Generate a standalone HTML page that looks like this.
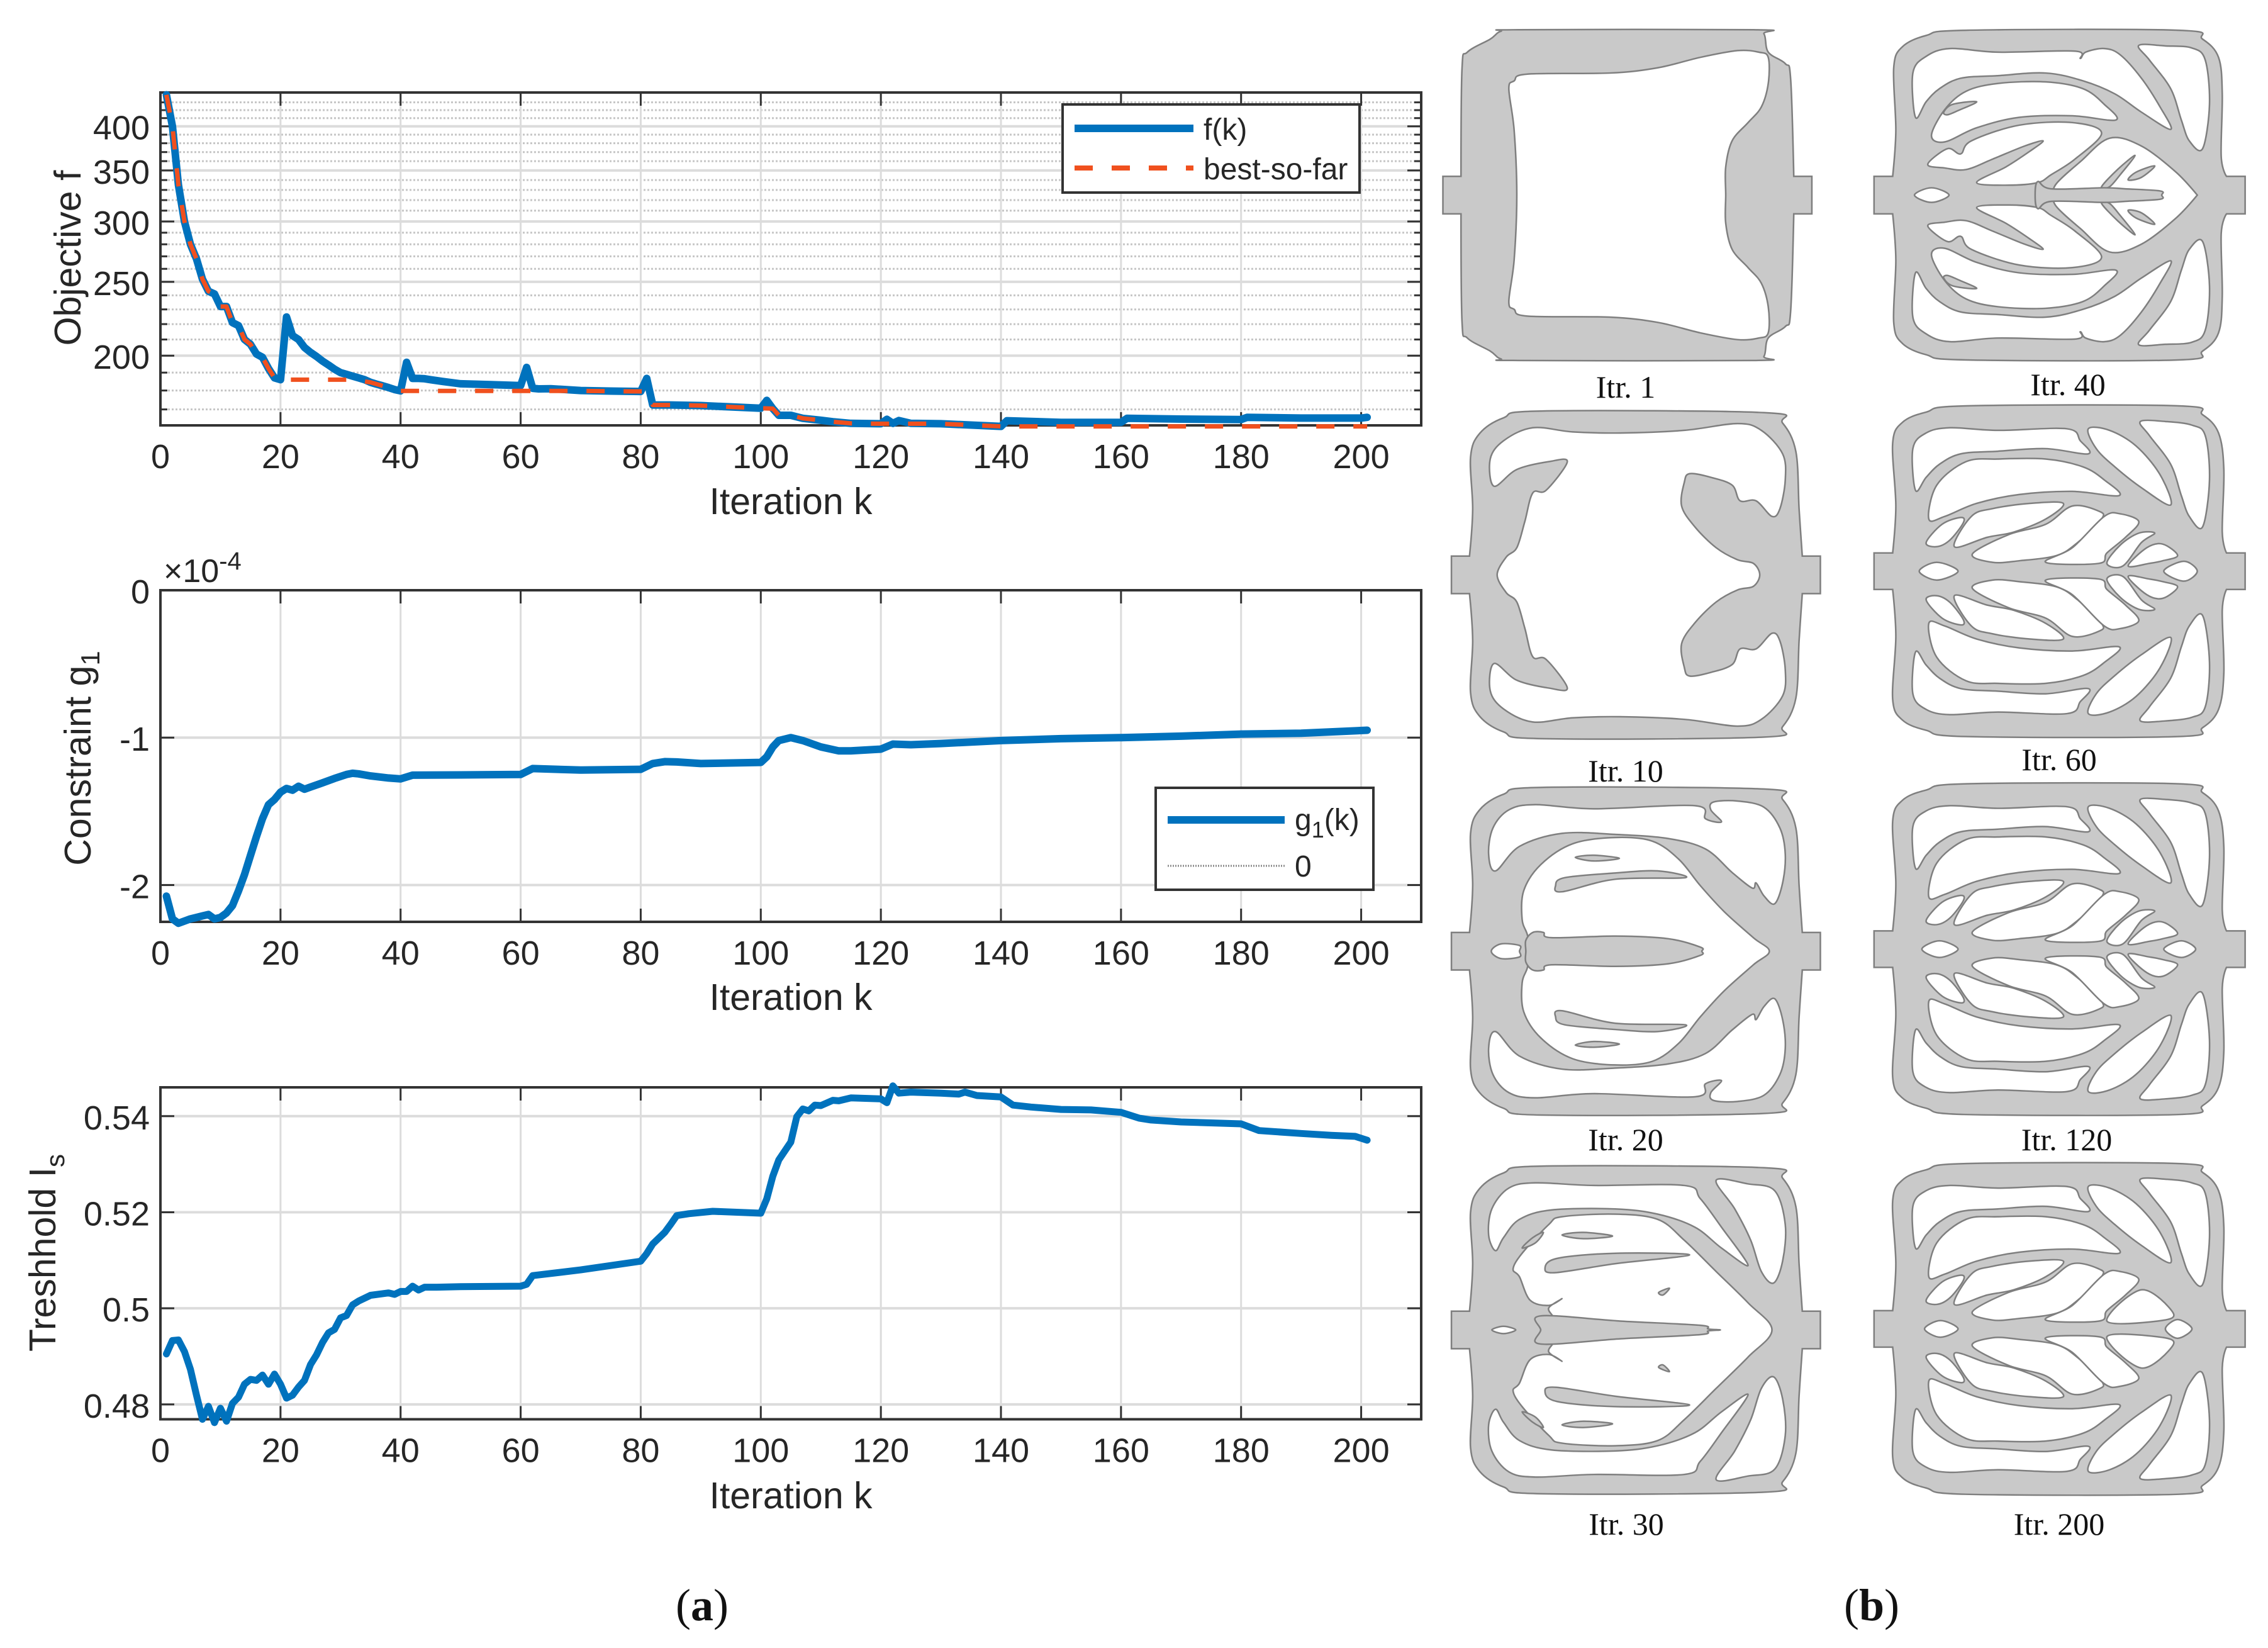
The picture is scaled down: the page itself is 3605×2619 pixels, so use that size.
<!DOCTYPE html>
<html lang="en">
<head>
<meta charset="utf-8">
<title>Optimization history and topology evolution</title>
<style>
html,body{margin:0;padding:0;background:#fff;}
svg{display:block;position:absolute;left:0;top:0;}
.sans{font-family:"Liberation Sans",Arial,sans-serif;fill:#262626;}
.serif{font-family:"Liberation Serif","Times New Roman",serif;fill:#111;}
</style>
</head>
<body>
<svg id="figure" xmlns="http://www.w3.org/2000/svg" width="3605" height="2619" viewBox="0 0 3605 2619">
  <rect width="3605" height="2619" fill="#ffffff"/>
  <g id="charts"></g>
  <g id="topologies"></g>

  <!-- Axis titles -->
  <text class="sans" font-size="59" text-anchor="middle" transform="translate(128,410) rotate(-90)">Objective f</text>
  <text class="sans" font-size="59" text-anchor="middle" x="1257" y="817">Iteration k</text>
  <text class="sans" font-size="59" text-anchor="middle" transform="translate(144,1205) rotate(-90)">Constraint g<tspan font-size="42" dy="14">1</tspan></text>
  <text class="sans" font-size="59" text-anchor="middle" x="1257" y="1605">Iteration k</text>
  <text class="sans" font-size="52" x="260" y="925">×10<tspan font-size="40" dy="-20">-4</tspan></text>
  <text class="sans" font-size="59" text-anchor="middle" transform="translate(88,1991) rotate(-90)">Treshhold I<tspan font-size="42" dy="14">s</tspan></text>
  <text class="sans" font-size="59" text-anchor="middle" x="1257" y="2397">Iteration k</text>

  <!-- Legends -->
  <g>
    <rect x="1689" y="166" width="472" height="140" fill="#fff" stroke="#333" stroke-width="4"/>
    <line x1="1708" y1="204" x2="1897" y2="204" stroke="#0072BD" stroke-width="12"/>
    <text class="sans" font-size="48" x="1913" y="222">f(k)</text>
    <line x1="1708" y1="267" x2="1897" y2="267" stroke="#F0501E" stroke-width="8" stroke-dasharray="29 30"/>
    <text class="sans" font-size="48" x="1913" y="285">best-so-far</text>
  </g>
  <g>
    <rect x="1837" y="1252" width="346" height="162" fill="#fff" stroke="#333" stroke-width="4"/>
    <line x1="1856" y1="1303" x2="2042" y2="1303" stroke="#0072BD" stroke-width="12"/>
    <text class="sans" font-size="48" x="2058" y="1319">g<tspan font-size="36" dy="12">1</tspan><tspan dy="-12">(k)</tspan></text>
    <line x1="1856" y1="1376" x2="2042" y2="1376" stroke="#888" stroke-width="3" stroke-dasharray="2 2"/>
    <text class="sans" font-size="48" x="2058" y="1393">0</text>
  </g>

  <!-- Captions -->
  <text class="serif" font-size="50" text-anchor="middle" x="2584" y="632">Itr. 1</text>
  <text class="serif" font-size="50" text-anchor="middle" x="3287" y="628">Itr. 40</text>
  <text class="serif" font-size="50" text-anchor="middle" x="2584" y="1242">Itr. 10</text>
  <text class="serif" font-size="50" text-anchor="middle" x="3273" y="1224">Itr. 60</text>
  <text class="serif" font-size="50" text-anchor="middle" x="2584" y="1828">Itr. 20</text>
  <text class="serif" font-size="50" text-anchor="middle" x="3285" y="1828">Itr. 120</text>
  <text class="serif" font-size="50" text-anchor="middle" x="2585" y="2439">Itr. 30</text>
  <text class="serif" font-size="50" text-anchor="middle" x="3273" y="2439">Itr. 200</text>
  <text class="serif" font-size="72" text-anchor="middle" x="1116" y="2575">(<tspan font-weight="bold">a</tspan>)</text>
  <text class="serif" font-size="72" text-anchor="middle" x="2975" y="2575">(<tspan font-weight="bold">b</tspan>)</text>
</svg>

<script id="chart-script">
const xTicks = [0,20,40,60,80,100,120,140,160,180,200];

const fMajorTicks = [200,250,300,350,400];
const fMinorTicks = [170,180,190,210,220,230,240,260,270,280,290,310,320,330,340,360,370,380,390,410,420,430];

const fIterations = [1,2,3,4,5,6,7,8,9,10,11,12,13,14,15,16,17,18,19,20,21,22,23,24,25,26,27,28,29,30,31,32,33,34,35,36,37,38,39,40,41,42,43,44,45,47,50,55,60,61,62,63,65,70,75,80,81,82,83,85,90,100,101,102,103,105,107,110,112,115,120,121,122,123,125,130,140,141,150,160,161,170,180,181,190,200,201];
const fValues = [440,400,335,300,280,268,252,243,241,232,232,221,219,210,207,201,199,192.4,187,186,224.8,212.5,210,205,202,199.5,196.7,194.4,192,190,189,188,187,186,184.5,183.5,182.6,181.6,180.5,179.8,196,186.7,186.7,186.5,186,185,183.7,183.2,182.7,193,181.2,180.9,181,180,179.7,179.5,186.7,172.3,172.3,172.3,172,170.6,174.7,170.4,167,167,165.5,164.5,163.8,163,162.8,165,163,164.4,163,162.8,161.5,164.3,163.5,163.5,165.5,165.1,164.9,166,165.6,165.6,166];

const bestIterations = [1,2,3,4,5,6,7,8,9,10,11,12,13,14,15,16,17,18,19,20,32,35,37,38,40,63,65,70,75,81,82,85,90,100,102,103,105,107,110,112,115,120,125,130,140,201];
const bestValues = [440,400,335,300,280,268,252,243,241,232,232,221,219,210,207,201,199,192.4,187,186,186,184.5,182.6,181.6,179.8,179.8,179.8,179.8,179.6,179.5,172.3,172.3,172,170.6,170.4,167,167,165.5,164.5,163.8,163,162.8,162.8,162.8,161.5,161.5];

const gMajorTicks = [-2,-1,0];
const gTickLabels = ['-2','-1','0'];
const gIterations = [1,2,3,4,5,6,7,8,9,10,11,12,13,14,15,16,17,18,19,20,21,22,23,24,25,27,29,31,32,33,35,38,40,42,50,60,62,70,80,82,84,86,90,100,101,102,103,105,107,110,113,115,120,122,125,130,140,150,160,170,180,190,201];
const gValues = [-2.076,-2.23,-2.26,-2.245,-2.23,-2.22,-2.21,-2.2,-2.23,-2.22,-2.19,-2.14,-2.04,-1.93,-1.8,-1.67,-1.55,-1.455,-1.42,-1.37,-1.345,-1.357,-1.33,-1.35,-1.335,-1.307,-1.277,-1.25,-1.242,-1.246,-1.26,-1.274,-1.28,-1.255,-1.253,-1.25,-1.21,-1.22,-1.215,-1.176,-1.163,-1.165,-1.176,-1.168,-1.13,-1.063,-1.02,-1,-1.02,-1.063,-1.09,-1.09,-1.078,-1.044,-1.048,-1.04,-1.02,-1.007,-1,-0.99,-0.976,-0.97,-0.95];

const tMajorTicks = [0.48,0.5,0.52,0.54];
const tTickLabels = ['0.48','0.5','0.52','0.54'];
const tIterations = [1,2,3,4,5,6,7,8,9,10,11,12,13,14,15,16,17,18,19,20,21,22,23,24,25,26,27,28,29,30,31,32,33,35,38,39,40,41,42,43,44,46,50,60,61,62,70,80,81,82,84,85,86,88,92,100,101,102,103,105,106,107,108,109,110,112,113,115,120,121,122,123,125,130,133,134,136,140,142,145,150,155,160,163,165,170,175,180,183,190,195,199,201];
const tValues = [0.4905,0.4933,0.4934,0.491,0.4873,0.4819,0.4769,0.4796,0.4762,0.4792,0.4765,0.4802,0.4815,0.4842,0.4852,0.485,0.4861,0.4842,0.4863,0.4842,0.4813,0.4819,0.4836,0.485,0.4883,0.4903,0.4929,0.4949,0.4956,0.498,0.4985,0.5007,0.5015,0.5027,0.5032,0.5029,0.5035,0.5035,0.5046,0.5038,0.5044,0.5044,0.5045,0.5046,0.505,0.5068,0.508,0.5098,0.5114,0.5134,0.5158,0.5175,0.5193,0.5197,0.5202,0.5198,0.5228,0.5275,0.5309,0.5346,0.5399,0.5415,0.5411,0.5423,0.5422,0.5433,0.5432,0.5438,0.5436,0.5428,0.5463,0.5448,0.545,0.5448,0.5446,0.545,0.5443,0.544,0.5423,0.5419,0.5414,0.5413,0.5408,0.5396,0.5392,0.5388,0.5386,0.5384,0.537,0.5364,0.536,0.5358,0.535];

const SVGNS = 'http://www.w3.org/2000/svg';
const chartsRoot = document.getElementById('charts');
const AXIS_LEFT = 255, AXIS_RIGHT = 2259, X_MAX = 210;
const xAxis = k => AXIS_LEFT + k * (AXIS_RIGHT - AXIS_LEFT) / X_MAX;

function make(tag, attrs, parent) {
  const node = document.createElementNS(SVGNS, tag);
  for (const key in attrs) node.setAttribute(key, attrs[key]);
  parent.appendChild(node);
  return node;
}

function drawSeries(parent, iters, values, yAxis, stroke, width, dash, seriesName) {
  const pts = iters.map((k, i) => xAxis(k).toFixed(1) + ',' + yAxis(values[i]).toFixed(1)).join(' ');
  const line = make('polyline', {points: pts, fill: 'none', stroke: stroke, 'stroke-width': width, 'stroke-linejoin': 'round', 'stroke-linecap': dash ? 'butt' : 'round'}, parent);
  if (dash) line.setAttribute('stroke-dasharray', dash);
  
  
}

function drawFrame(parent, top, bottom, yAxis, majors, majorLabels, minors) {
  for (const v of minors) {
    const y = yAxis(v);
    const grid = make('line', {x1: AXIS_LEFT, x2: AXIS_RIGHT, y1: y, y2: y, stroke: '#c6c6c6', 'stroke-width': 3, 'stroke-dasharray': '3 3'}, parent);
    
    
    const tl = make('line', {x1: AXIS_LEFT, x2: AXIS_LEFT + 11, y1: y, y2: y, stroke: '#333', 'stroke-width': 3}, parent);
    
    
    const tr = make('line', {x1: AXIS_RIGHT - 11, x2: AXIS_RIGHT, y1: y, y2: y, stroke: '#333', 'stroke-width': 3}, parent);
    
    
  }
  for (const k of xTicks) {
    const x = xAxis(k);
    const grid = make('line', {x1: x, x2: x, y1: top, y2: bottom, stroke: '#dcdcdc', 'stroke-width': 3}, parent);
    
    
  }
  majors.forEach((v) => {
    const y = yAxis(v);
    const grid = make('line', {x1: AXIS_LEFT, x2: AXIS_RIGHT, y1: y, y2: y, stroke: '#dcdcdc', 'stroke-width': 4}, parent);
    
    
  });
  for (const k of xTicks) {
    const x = xAxis(k);
    const t1 = make('line', {x1: x, x2: x, y1: top, y2: top + 21, stroke: '#333', 'stroke-width': 3}, parent);
    
    
    const t2 = make('line', {x1: x, x2: x, y1: bottom - 21, y2: bottom, stroke: '#333', 'stroke-width': 3}, parent);
    
    
    const label = make('text', {x: x, y: bottom + 68, 'text-anchor': 'middle', 'font-size': 54, class: 'sans'}, parent);
    label.textContent = String(k);
    
    
  }
  majors.forEach((v, i) => {
    const y = yAxis(v);
    const t1 = make('line', {x1: AXIS_LEFT, x2: AXIS_LEFT + 22, y1: y, y2: y, stroke: '#333', 'stroke-width': 3}, parent);
    
    
    const t2 = make('line', {x1: AXIS_RIGHT - 22, x2: AXIS_RIGHT, y1: y, y2: y, stroke: '#333', 'stroke-width': 3}, parent);
    
    
    const label = make('text', {x: 238, y: y + 21, 'text-anchor': 'end', 'font-size': 54, class: 'sans'}, parent);
    label.textContent = majorLabels[i];
    
    
  });
  const box = make('rect', {x: AXIS_LEFT, y: top, width: AXIS_RIGHT - AXIS_LEFT, height: bottom - top, fill: 'none', stroke: '#333', 'stroke-width': 4}, parent);
  
  
}

/* Objective plot: log y axis */
const fPlot = make('g', {}, chartsRoot);


const fTop = 147, fBottom = 676, fMin = 162, fMax = 443;
const fAxis = v => fBottom - (Math.log(v) - Math.log(fMin)) / (Math.log(fMax) - Math.log(fMin)) * (fBottom - fTop);
drawFrame(fPlot, fTop, fBottom, fAxis, fMajorTicks, fMajorTicks.map(String), fMinorTicks);
drawSeries(fPlot, fIterations, fValues, fAxis, '#0072BD', 12, null, 'objective-line');
drawSeries(fPlot, bestIterations, bestValues, fAxis, '#F0501E', 7, '29 30', 'best-so-far-line');

/* Constraint plot */
const gPlot = make('g', {}, chartsRoot);


const gTop = 938, gBottom = 1465, gMin = -2.25, gMax = 0;
const gAxis = v => gBottom - (v - gMin) / (gMax - gMin) * (gBottom - gTop);
drawFrame(gPlot, gTop, gBottom, gAxis, gMajorTicks, gTickLabels, []);
drawSeries(gPlot, gIterations, gValues, gAxis, '#0072BD', 12, null, 'constraint-line');

/* Threshold plot */
const tPlot = make('g', {}, chartsRoot);


const tTop = 1728, tBottom = 2255.5, tMin = 0.4769, tMax = 0.546;
const tAxis = v => tBottom - (v - tMin) / (tMax - tMin) * (tBottom - tTop);
drawFrame(tPlot, tTop, tBottom, tAxis, tMajorTicks, tTickLabels, []);
drawSeries(tPlot, tIterations, tValues, tAxis, '#0072BD', 11, null, 'threshold-line');
</script>

<script id="topology-script">
(function () {
  const NS = 'http://www.w3.org/2000/svg';
  const root = document.getElementById('topologies');
  const shift = (pts, dy) => pts.map((v, i) => (i % 2 ? v + dy : v));

  /* Outlines: top half, mirrored about each panel's centre line. A doubled point is a sharp corner. */
  const outer1 = [16,338,16,338,50,338,50,338,52,130,62,100,105,75,125,60,160,57,600,57,620,65,628,100,660,122,670,150,676,338,676,338,710,338,710,338];
  const outer40 = [827,338,827,338,862,338,862,338,868,250,864,130,880,90,925,68,1000,58,1400,58,1445,75,1475,110,1482,180,1480,300,1490,338,1490,338,1525,338,1525,338];
  const outer20 = [32,340,32,340,66,340,66,340,72,250,68,150,85,105,130,75,200,62,620,65,655,85,680,140,686,250,692,340,692,340,726,340,726,340];
  const outer60 = [827,1060,827,1060,862,1060,862,1060,868,970,862,850,880,810,925,790,1000,778,1400,778,1445,795,1475,830,1485,900,1482,1020,1490,1060,1490,1060,1525,1060,1525,1060];

  /* Shared veins of the later leaf layouts (coordinates for Itr. 60) */
  const leafHoles = [
    [905,940,900,860,925,830,970,820,1060,825,1190,822,1215,845,1230,870,1150,860,1060,865,990,870,950,890,925,915],
    [1230,822,1270,825,1320,855,1365,910,1385,968,1330,935,1280,895,1245,860],
    [1328,808,1375,808,1425,815,1450,835,1458,920,1445,1010,1420,990,1405,950,1385,890,1345,835],
    [930,995,945,930,1000,885,1060,880,1150,880,1220,895,1260,920,1288,950,1200,942,1100,948,1020,965,960,990],
    [925,1040,955,1005,990,992,995,1002,970,1035,945,1048],
    [978,1048,1010,990,1050,975,1120,965,1183,965,1150,995,1090,1020,1040,1030],
    [1012,1062,1080,1025,1150,1005,1200,970,1250,980,1255,995,1210,1040,1170,1065,1100,1075,1050,1078],
    [1150,1078,1200,1050,1260,990,1290,985,1325,1000,1300,1030,1265,1060,1250,1080]
  ];
  const leafTips = [
    [1265,1080,1290,1045,1325,1022,1355,1022,1330,1040,1295,1085],
    [1305,1085,1340,1050,1370,1043,1398,1065,1370,1075,1345,1080]
  ];

  const panels = [
    {name:'topology-itr-1', top:0, cy:374, outer:outer1,
      mids:[[155,374,150,250,140,170,150,155,175,142,330,140,420,130,500,110,570,97,610,100,628,110,628,160,615,205,590,235,560,270,548,320,548,374]]},
    {name:'topology-itr-40', top:0, cy:374, outer:outer40,
      holes:[
        [905,225,900,140,925,108,970,93,1060,100,1205,98,1215,112,1225,100,1260,93,1290,105,1330,150,1365,205,1385,248,1330,215,1280,180,1220,155,1150,140,1060,145,990,150,950,170,925,195],
        [1325,87,1375,88,1425,92,1450,115,1458,200,1445,285,1420,270,1405,230,1385,170,1345,115],
        [935,260,960,210,1000,175,1060,160,1150,157,1220,170,1260,200,1282,230,1200,222,1100,225,1020,245,960,272],
        [928,315,965,285,990,295,1010,270,1100,240,1200,235,1255,255,1205,305,1160,335,1135,350,1080,355,1020,350,1075,320,1120,290,1145,270,1110,280,1050,305,1000,325,960,322]
      ],
      mids:[[903,374,935,360,968,374],[1165,374,1170,352,1215,310,1270,265,1330,280,1395,330,1435,374,1435,374]],
      islands:[[958,215,975,200,1020,195,985,212,965,220],[1255,358,1285,325,1318,298,1290,335,1270,358],[1305,345,1320,330,1355,318,1330,340]],
      midIslands:[[1130,374,1135,348,1160,362,1260,360,1300,362,1365,366,1368,374]]},
    {name:'topology-itr-10', top:0, cy:1102, outer:shift(outer20,726),
      mids:[[118,1102,135,1068,155,1050,170,1000,185,945,210,940,250,885,215,885,155,900,112,932,105,880,130,845,185,820,260,828,350,830,470,825,570,812,615,825,655,870,660,920,650,975,635,990,605,960,575,960,560,930,520,915,480,908,470,925,465,970,490,1010,530,1050,570,1073,600,1080,612,1102]]},
    {name:'topology-itr-60', top:0, cy:1095, outer:outer60,
      holes:leafHoles.concat(leafTips),
      mids:[[912,1095,945,1078,985,1095],[1372,1095,1410,1076,1435,1095]]},
    {name:'topology-itr-20', top:1200, cy:376, outer:outer20,
      holes:[[115,222,102,190,110,140,140,105,190,95,300,103,490,97,510,122,540,128,520,105,525,90,570,88,620,100,650,140,660,190,655,245,640,285,620,270,605,245,598,255,560,225,510,180,440,160,340,152,240,150,160,175]],
      mids:[[107,376,125,362,160,365,160,376],[178,376,175,345,165,315,168,260,200,210,260,170,340,158,410,165,460,200,500,250,545,300,600,350,630,376]],
      islands:[[228,250,245,235,340,226,420,222,472,235,340,238,240,262],[265,196,300,192,348,198,300,203]],
      midIslands:[[172,376,172,355,185,340,205,340,220,350,340,347,440,352,500,368,503,376]]},
    {name:'topology-itr-120', top:1200, cy:372, outer:shift(outer60,-723),
      holes:leafHoles.concat(leafTips).map(h => shift(h,-723)),
      mids:[[917,372,950,356,985,372],[1372,372,1405,356,1432,372]]},
    {name:'topology-itr-30', top:1200, cy:1102, outer:shift(outer20,726),
      holes:[
        [115,950,102,920,108,870,140,830,190,820,300,825,470,825,500,850,540,905,590,978,540,945,490,905,420,880,340,870,220,872,160,890,130,925],
        [530,815,590,822,640,835,660,900,655,970,638,1012,615,990,595,930,565,870]
      ],
      mids:[[108,1102,130,1095,153,1102],[225,1102,225,1080,215,1060,240,1042,215,1055,180,1045,160,1000,148,985,165,955,215,900,240,885,340,880,420,890,470,930,530,990,590,1050,635,1102]],
      islands:[[208,985,230,965,340,955,480,958,340,975,230,992],[240,920,280,915,335,922,280,927],[165,945,185,925,205,915,190,935],[422,1030,442,1022,430,1035]],
      midIslands:[[200,1102,200,1075,350,1085,500,1093,515,1100,538,1102]]},
    {name:'topology-itr-200', top:1200, cy:1100, outer:shift(outer60,5),
      holes:leafHoles.map(h => shift(h,5)).concat([[1265,1085,1330,1025,1390,1070,1360,1085]]),
      mids:[[922,1100,952,1084,985,1100],[1375,1100,1398,1082,1425,1100]]}
  ];

  function toPairs(flat) {
    const out = [];
    for (let i = 0; i < flat.length; i += 2) out.push([flat[i], flat[i + 1]]);
    return out;
  }
  /* Smooth closed curve; a doubled point becomes a corner with zero tangent. */
  function smoothClosed(raw) {
    const p = [];
    raw.forEach((q, i) => {
      const prev = raw[(i - 1 + raw.length) % raw.length];
      if (prev[0] === q[0] && prev[1] === q[1]) { if (p.length) p[p.length - 1].corner = true; return; }
      p.push({x: q[0], y: q[1], corner: false});
    });
    const n = p.length;
    const tan = i => {
      if (p[i].corner) return [0, 0];
      const a = p[(i - 1 + n) % n], c = p[(i + 1) % n];
      return [(c.x - a.x) / 6, (c.y - a.y) / 6];
    };
    let d = 'M' + p[0].x + ' ' + p[0].y;
    for (let i = 0; i < n; i++) {
      const j = (i + 1) % n, t1 = tan(i), t2 = tan(j);
      d += 'C' + (p[i].x + t1[0]).toFixed(1) + ' ' + (p[i].y + t1[1]).toFixed(1) + ' ' + (p[j].x - t2[0]).toFixed(1) + ' ' + (p[j].y - t2[1]).toFixed(1) + ' ' + p[j].x + ' ' + p[j].y;
    }
    return d + 'Z';
  }
  const mirror = (pts, cy) => pts.map(q => [q[0], 2 * cy - q[1]]);
  const spanAxis = (pts, cy) => pts.concat(mirror(pts, cy).reverse().filter(q => q[1] !== cy));

  for (const panel of panels) {
    const g = document.createElementNS(NS, 'g');
    g.setAttribute('transform', 'translate(2280,' + panel.top + ') scale(.845,.829)');
    g.setAttribute('stroke', '#7f7f7f');
    g.setAttribute('stroke-width', '3');
    
    
    root.appendChild(g);

    const body = document.createElementNS(NS, 'path');
    body.setAttribute('d', smoothClosed(spanAxis(toPairs(panel.outer), panel.cy)));
    body.setAttribute('fill', '#c9c9c9');
    
    
    g.appendChild(body);

    for (const h of panel.holes || []) {
      const pts = toPairs(h);
      for (const loop of [pts, mirror(pts, panel.cy)]) {
        const hole = document.createElementNS(NS, 'path');
        hole.setAttribute('d', smoothClosed(loop));
        hole.setAttribute('fill', '#ffffff');
        
        
        g.appendChild(hole);
      }
    }
    for (const m of panel.mids || []) {
      const hole = document.createElementNS(NS, 'path');
      hole.setAttribute('d', smoothClosed(spanAxis(toPairs(m), panel.cy)));
      hole.setAttribute('fill', '#ffffff');
      
      
      g.appendChild(hole);
    }
    for (const s of panel.islands || []) {
      const pts = toPairs(s);
      for (const loop of [pts, mirror(pts, panel.cy)]) {
        const isle = document.createElementNS(NS, 'path');
        isle.setAttribute('d', smoothClosed(loop));
        isle.setAttribute('fill', '#c9c9c9');
        
        
        g.appendChild(isle);
      }
    }
    for (const s of panel.midIslands || []) {
      const stem = document.createElementNS(NS, 'path');
      stem.setAttribute('d', smoothClosed(spanAxis(toPairs(s), panel.cy)));
      stem.setAttribute('fill', '#c9c9c9');
      
      
      g.appendChild(stem);
    }
  }
})();
</script>
</body>
</html>
